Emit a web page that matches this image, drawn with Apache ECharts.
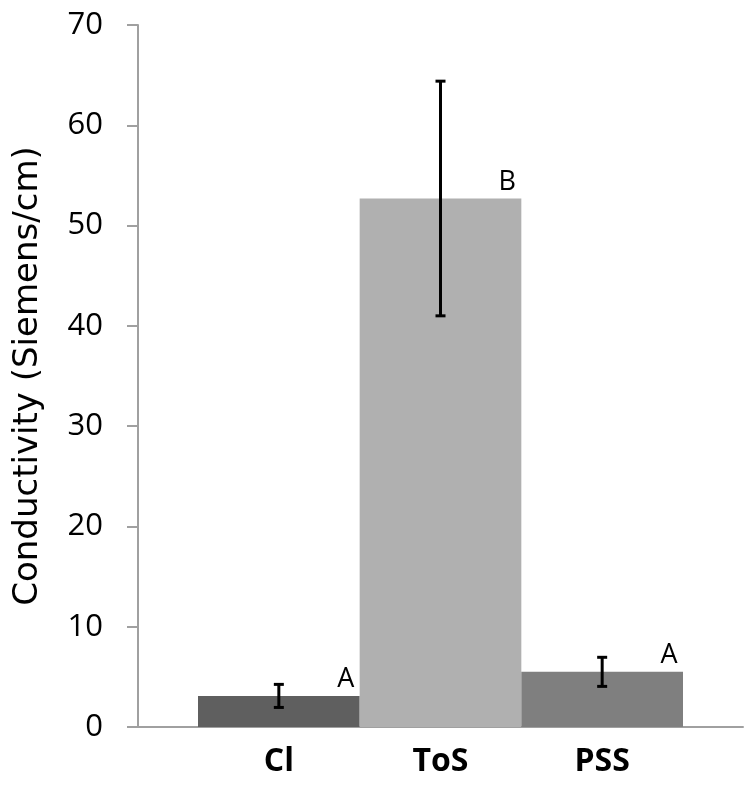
<!DOCTYPE html>
<html>
<head>
<meta charset="utf-8">
<script src="https://cdn.jsdelivr.net/npm/echarts@6/dist/echarts.min.js"></script>
<style>
  html, body { margin: 0; padding: 0; background: #fff; }
  #chart { width: 751px; height: 788px; }
</style>
</head>
<body>
<div id="chart"></div>
<script>
const categories = ["Cl", "ToS", "PSS"];
const means = [3.1, 52.7, 5.5];
const errors = [1.15, 11.7, 1.45];
const letters = ["A", "B", "A"];
const barColors = ["#5f5f5f", "#b0b0b0", "#7f7f7f"];

const chart = echarts.init(document.getElementById("chart"));

const errData = means.map((m, i) => [i, m - errors[i], m + errors[i], m]);

const option = {
  animation: false,
  backgroundColor: "#fff",
  grid: [
    { left: 138, right: 8, top: 25, bottom: 61, outerBoundsMode: "none", containLabel: false },
    { left: 198, right: 68, top: 25, bottom: 61, outerBoundsMode: "none", containLabel: false }
  ],
  xAxis: [
    {
      gridIndex: 0,
      type: "category",
      data: [""],
      axisLine: { lineStyle: { color: "#a0a0a0", width: 2 } },
      axisTick: { show: false },
      axisLabel: { show: false }
    },
    {
      gridIndex: 1,
      type: "category",
      data: categories,
      axisLine: { show: false },
      axisTick: { show: false },
      axisLabel: {
        margin: 19,
        fontFamily: "Open Sans",
        fontWeight: "bold",
        fontSize: 32,
        color: "#000"
      }
    }
  ],
  yAxis: [
    {
      gridIndex: 0,
      type: "value",
      min: 0,
      max: 70,
      interval: 10,
      name: "Conductivity (Siemens/cm)",
      nameLocation: "middle",
      nameGap: 93,
      nameTextStyle: { fontFamily: "DejaVu Sans", fontSize: 34, color: "#000" },
      axisLine: { show: true, lineStyle: { color: "#a0a0a0", width: 2 } },
      axisTick: { show: true, length: 11, lineStyle: { color: "#a0a0a0", width: 2 } },
      axisLabel: { margin: 35, fontFamily: "Open Sans", fontSize: 31, color: "#000" },
      splitLine: { show: false }
    },
    {
      gridIndex: 1,
      type: "value",
      min: 0,
      max: 70,
      show: false,
      splitLine: { show: false }
    }
  ],
  series: [
    {
      type: "bar",
      xAxisIndex: 1,
      yAxisIndex: 1,
      barWidth: "100%",
      data: means.map((v, i) => ({ value: v, itemStyle: { color: barColors[i] } }))
    },
    {
      type: "custom",
      xAxisIndex: 1,
      yAxisIndex: 1,
      data: errData,
      z: 5,
      renderItem: function (params, api) {
        const i = api.value(0);
        const lo = api.coord([i, api.value(1)]);
        const hi = api.coord([i, api.value(2)]);
        const top = api.coord([i, api.value(3)]);
        const band = api.size([1, 0])[0];
        const cap = 5;
        const style = { stroke: "#000", lineWidth: 3 };
        return {
          type: "group",
          children: [
            { type: "line", shape: { x1: hi[0], y1: hi[1], x2: lo[0], y2: lo[1] }, style: style },
            { type: "line", shape: { x1: hi[0] - cap, y1: hi[1], x2: hi[0] + cap, y2: hi[1] }, style: style },
            { type: "line", shape: { x1: lo[0] - cap, y1: lo[1], x2: lo[0] + cap, y2: lo[1] }, style: style },
            {
              type: "text",
              style: {
                text: letters[i],
                x: top[0] + band / 2 - 14,
                y: top[1] - 3,
                align: "center",
                verticalAlign: "bottom",
                fontFamily: "Open Sans",
                fontSize: 27,
                fill: "#000"
              }
            }
          ]
        };
      }
    }
  ]
};

chart.setOption(option);
</script>
</body>
</html>
